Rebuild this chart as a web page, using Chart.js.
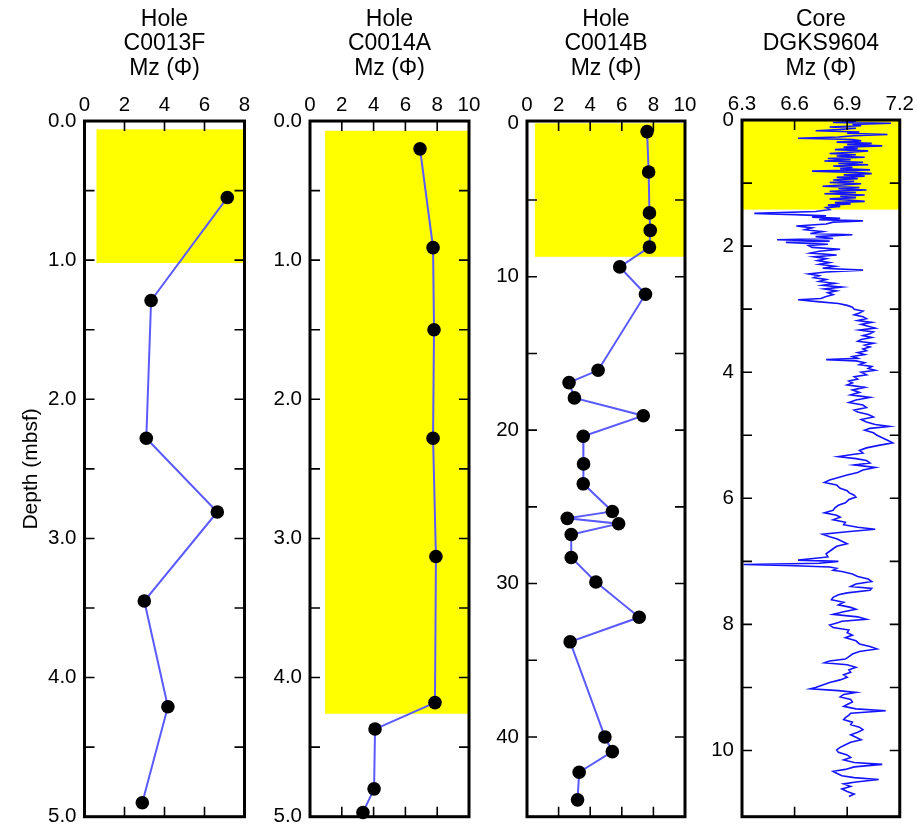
<!DOCTYPE html>
<html>
<head>
<meta charset="utf-8">
<title>Mz depth profiles</title>
<script src="https://cdn.jsdelivr.net/npm/chart.js@4.4.1/dist/chart.umd.min.js"></script>
<style>
  body { margin: 0; background: #fff; }
  #wrap { position: relative; width: 917px; height: 837px; }
  #wrap canvas { position: absolute; left: 0; top: 0; }
</style>
</head>
<body>
<div id="wrap">
  <canvas id="c0013f" width="917" height="837"></canvas>
  <canvas id="c0014a" width="917" height="837"></canvas>
  <canvas id="c0014b" width="917" height="837"></canvas>
  <canvas id="dgks9604" width="917" height="837"></canvas>
</div>
<script>
// Hole C0013F
const depthC0013F = [0.55, 1.29, 2.28, 2.81, 3.45, 4.21, 4.90];
const mzC0013F    = [7.14, 3.33, 3.09, 6.64, 2.99, 4.17, 2.89];
const shadeMzC0013F    = [0.6, 8];
const shadeDepthC0013F = [0.06, 1.02];

// Hole C0014A
const depthC0014A = [0.20, 0.91, 1.50, 2.28, 3.13, 4.18, 4.37, 4.80, 4.97];
const mzC0014A    = [6.92, 7.74, 7.80, 7.74, 7.92, 7.86, 4.09, 4.03, 3.33];
const shadeMzC0014A    = [0.95, 10];
const shadeDepthC0014A = [0.07, 4.26];

// Hole C0014B
const depthC0014B = [0.54, 3.17, 5.84, 6.98, 8.07, 9.36, 11.14, 16.1, 16.9, 17.9, 19.06, 20.4,
                     22.2, 23.5, 25.3, 25.75, 26.1, 26.8, 28.3, 29.9, 32.2, 33.8, 40.0, 40.96, 42.3, 44.1];
const mzC0014B    = [7.6, 7.7, 7.75, 7.8, 7.75, 5.87, 7.5, 4.5, 2.66, 3.0, 7.36, 3.56,
                     3.58, 3.56, 5.4, 2.55, 5.8, 2.8, 2.8, 4.36, 7.1, 2.73, 4.93, 5.4, 3.3, 3.2];
const shadeMzC0014B    = [0.5, 10];
const shadeDepthC0014B = [0, 8.7];

// Core DGKS9604 (m)
const depthDGKS = [
  0.00, 0.02, 0.04, 0.05, 0.07, 0.09, 0.11, 0.13, 0.15, 0.17, 0.19, 0.21, 0.23, 0.25, 0.27, 0.29,
  0.31, 0.33, 0.35, 0.37, 0.39, 0.41, 0.43, 0.45, 0.47, 0.49, 0.51, 0.53, 0.55, 0.57, 0.59, 0.61,
  0.63, 0.65, 0.67, 0.69, 0.71, 0.73, 0.75, 0.77, 0.79, 0.81, 0.83, 0.85, 0.87, 0.89, 0.91, 0.93,
  0.95, 0.97, 0.99, 1.01, 1.03, 1.05, 1.07, 1.09, 1.11, 1.13, 1.15, 1.17, 1.19, 1.21, 1.23, 1.25,
  1.27, 1.29, 1.31, 1.33, 1.35, 1.37, 1.39, 1.42, 1.45, 1.48, 1.50, 1.52, 1.54, 1.56, 1.58, 1.60,
  1.62, 1.65, 1.68, 1.71, 1.74, 1.77, 1.80, 1.82, 1.85, 1.88, 1.90, 1.92, 1.94, 1.97, 1.99, 2.02,
  2.05, 2.08, 2.11, 2.14, 2.17, 2.20, 2.23, 2.26, 2.29, 2.32, 2.35, 2.38, 2.41, 2.44, 2.47, 2.50,
  2.53, 2.56, 2.59, 2.62, 2.65, 2.68, 2.71, 2.74, 2.77, 2.80, 2.83, 2.85, 2.88, 2.91, 2.94, 2.97,
  3.00, 3.03, 3.06, 3.09, 3.12, 3.15, 3.18, 3.21, 3.24, 3.27, 3.30, 3.33, 3.36, 3.39, 3.42, 3.45,
  3.48, 3.51, 3.54, 3.57, 3.60, 3.63, 3.66, 3.69, 3.72, 3.75, 3.78, 3.80, 3.82, 3.85, 3.88, 3.91,
  3.94, 3.97, 4.00, 4.04, 4.07, 4.11, 4.14, 4.17, 4.20, 4.24, 4.28, 4.32, 4.36, 4.40, 4.44, 4.48,
  4.52, 4.56, 4.60, 4.63, 4.67, 4.71, 4.75, 4.79, 4.83, 4.86, 4.89, 4.92, 4.96, 5.00, 5.04, 5.08,
  5.12, 5.16, 5.20, 5.24, 5.28, 5.31, 5.34, 5.37, 5.40, 5.44, 5.47, 5.51, 5.55, 5.59, 5.63, 5.67,
  5.71, 5.75, 5.79, 5.84, 5.88, 5.91, 5.95, 5.98, 6.02, 6.07, 6.11, 6.15, 6.19, 6.23, 6.27, 6.30,
  6.34, 6.38, 6.42, 6.46, 6.49, 6.53, 6.57, 6.61, 6.64, 6.68, 6.72, 6.76, 6.80, 6.84, 6.88, 6.93,
  6.98, 7.00, 7.03, 7.05, 7.07, 7.09, 7.11, 7.14, 7.16, 7.20, 7.24, 7.28, 7.32, 7.36, 7.40, 7.43,
  7.46, 7.50, 7.53, 7.57, 7.61, 7.65, 7.69, 7.73, 7.76, 7.80, 7.84, 7.88, 7.92, 7.95, 7.97, 8.01,
  8.05, 8.09, 8.13, 8.17, 8.21, 8.26, 8.31, 8.35, 8.39, 8.43, 8.47, 8.51, 8.55, 8.58, 8.61, 8.64,
  8.68, 8.72, 8.76, 8.80, 8.84, 8.88, 8.92, 8.96, 9.00, 9.02, 9.05, 9.08, 9.11, 9.15, 9.19, 9.23,
  9.27, 9.30, 9.34, 9.37, 9.41, 9.44, 9.48, 9.51, 9.55, 9.59, 9.63, 9.67, 9.71, 9.75, 9.79, 9.83,
  9.87, 9.91, 9.95, 9.99, 10.03, 10.07, 10.11, 10.15, 10.19, 10.22, 10.26, 10.30, 10.33, 10.36, 10.40, 10.43,
  10.46, 10.50, 10.53, 10.57, 10.61, 10.65, 10.69, 10.73
];
const mzDGKS = [
  6.87, 6.95, 6.82, 7.15, 6.93, 6.98, 6.80, 6.95, 6.86, 6.72, 6.97, 6.90, 7.13, 6.94, 6.85, 6.62,
  6.93, 6.98, 6.84, 7.04, 6.90, 7.10, 6.88, 6.96, 6.83, 7.02, 6.92, 6.80, 6.95, 6.84, 7.00, 6.79,
  6.92, 6.77, 6.99, 6.85, 7.02, 6.82, 6.93, 6.86, 7.03, 6.70, 6.95, 7.04, 6.88, 7.00, 6.84, 6.96,
  6.82, 6.94, 6.80, 6.98, 6.87, 6.76, 6.97, 6.85, 7.01, 6.80, 6.95, 6.77, 7.00, 6.86, 6.95, 6.80,
  6.91, 7.00, 6.83, 6.92, 6.79, 6.86, 6.78, 6.80, 6.72, 6.37, 6.60, 6.78, 6.70, 6.86, 6.74, 6.99,
  6.82, 6.78, 6.61, 6.70, 6.66, 6.76, 6.69, 6.93, 6.72, 6.82, 6.50, 6.80, 6.55, 6.79, 6.68, 6.70,
  6.86, 6.74, 6.69, 6.84, 6.71, 6.78, 6.73, 6.80, 6.74, 6.83, 6.76, 6.99, 6.78, 6.68, 6.74, 6.71,
  6.78, 6.74, 6.83, 6.76, 6.87, 6.77, 6.84, 6.79, 6.82, 6.78, 6.75, 6.62, 6.73, 6.85, 6.90, 6.93,
  6.94, 6.99, 6.97, 6.94, 6.99, 7.01, 6.96, 7.04, 6.98, 7.02, 7.06, 6.97, 7.05, 7.03, 6.99, 7.04,
  6.98, 6.96, 7.05, 7.00, 7.03, 6.99, 7.01, 6.96, 7.00, 6.93, 6.96, 6.78, 6.95, 7.00, 6.97, 7.04,
  7.02, 7.06, 6.98, 7.01, 6.94, 6.96, 6.91, 6.93, 6.90, 7.00, 6.93, 6.97, 6.92, 7.03, 6.95, 6.91,
  6.99, 7.01, 6.94, 6.96, 7.02, 7.05, 6.98, 7.01, 7.06, 7.14, 7.03, 7.00, 7.05, 7.07, 7.10, 7.13,
  7.16, 7.08, 7.01, 6.97, 6.99, 6.92, 6.85, 6.95, 7.01, 7.03, 6.94, 7.06, 6.99, 6.96, 6.90, 6.85,
  6.80, 6.77, 6.84, 6.86, 6.90, 6.91, 6.94, 6.95, 6.91, 6.89, 6.85, 6.83, 6.82, 6.77, 6.84, 6.86,
  6.82, 6.89, 6.88, 6.96, 7.06, 6.90, 6.76, 6.80, 6.84, 6.87, 6.90, 6.84, 6.82, 6.80, 6.78, 6.79,
  6.62, 6.85, 6.74, 6.31, 6.60, 6.80, 6.84, 6.82, 6.87, 6.93, 6.96, 7.02, 7.04, 6.95, 6.92, 7.04,
  7.03, 6.90, 6.85, 6.82, 6.81, 6.88, 6.85, 6.92, 6.95, 6.88, 6.82, 6.96, 7.01, 6.87, 6.85, 6.80,
  6.82, 6.91, 6.90, 6.93, 6.89, 6.95, 6.97, 7.03, 7.07, 6.97, 6.93, 6.91, 6.89, 6.80, 6.77, 6.90,
  6.95, 6.91, 6.92, 6.88, 6.90, 6.86, 6.80, 6.76, 6.72, 6.69, 6.85, 6.95, 6.88, 6.86, 6.92, 6.93,
  6.90, 6.88, 6.95, 7.12, 6.92, 6.91, 6.89, 6.88, 6.93, 6.92, 6.97, 6.99, 6.96, 6.92, 6.95, 6.98,
  6.92, 6.89, 6.86, 6.84, 6.85, 6.90, 6.92, 6.88, 6.94, 7.10, 6.94, 6.89, 6.82, 6.84, 6.87, 6.94,
  7.08, 6.95, 6.88, 6.92, 6.87, 6.90, 6.94, 6.91
];
const shadeMzDGKS    = [6.3, 7.2];
const shadeDepthDGKS = [0, 1.42];

Chart.defaults.font.family = '"Liberation Sans", Arial, sans-serif';
Chart.defaults.color = '#000';

// yellow interval behind the profile
const shadePlugin = {
  id: 'shade',
  beforeDatasetsDraw(chart, args, opts) {
    const { ctx, scales: { x, y } } = chart;
    const x0 = x.getPixelForValue(opts.mz[0]), x1 = x.getPixelForValue(opts.mz[1]);
    const y0 = y.getPixelForValue(opts.depth[0]), y1 = y.getPixelForValue(opts.depth[1]);
    ctx.save();
    ctx.fillStyle = '#ffff00';
    ctx.fillRect(x0, y0, x1 - x0, y1 - y0);
    ctx.restore();
  }
};

// box frame with inward tick marks on all four sides
const framePlugin = {
  id: 'frame',
  afterDatasetsDraw(chart) {
    const { ctx, chartArea: a, scales: { x, y } } = chart;
    ctx.save();
    ctx.strokeStyle = '#000';
    ctx.lineWidth = 1.6;
    ctx.beginPath();
    x.ticks.forEach(t => {
      const px = x.getPixelForValue(t.value);
      if (px - a.left < 4 || a.right - px < 4) return;
      ctx.moveTo(px, a.top); ctx.lineTo(px, a.top + 10);
      ctx.moveTo(px, a.bottom); ctx.lineTo(px, a.bottom - 10);
    });
    y.ticks.forEach(t => {
      const py = y.getPixelForValue(t.value);
      if (py - a.top < 4 || a.bottom - py < 4) return;
      ctx.moveTo(a.left, py); ctx.lineTo(a.left + 10, py);
      ctx.moveTo(a.right, py); ctx.lineTo(a.right - 10, py);
    });
    ctx.stroke();
    ctx.lineWidth = 3;
    ctx.strokeRect(a.left, a.top, a.right - a.left, a.bottom - a.top);
    ctx.restore();
  }
};

function depthChart(id, o) {
  return new Chart(document.getElementById(id), {
    type: 'scatter',
    data: {
      datasets: [{
        data: o.mz.map((v, i) => ({ x: v, y: o.depth[i] })),
        showLine: true,
        borderColor: o.lineColor,
        borderWidth: o.lineWidth,
        pointRadius: o.dots ? 6.8 : 0,
        pointBackgroundColor: '#000',
        pointBorderColor: '#000',
        pointBorderWidth: 0,
        clip: false
      }]
    },
    options: {
      responsive: false,
      animation: false,
      layout: { padding: o.padding },
      plugins: {
        legend: { display: false },
        tooltip: { enabled: false },
        title: {
          display: true,
          text: o.title,
          fullSize: false,
          font: { size: 23, weight: 'normal', lineHeight: 1.07 },
          padding: { top: 0, bottom: 0 }
        },
        shade: { mz: o.shadeMz, depth: o.shadeDepth }
      },
      scales: {
        x: {
          type: 'linear',
          position: 'top',
          min: o.xMin, max: o.xMax,
          grid: { display: false, drawTicks: false, tickLength: 0 },
          border: { display: false },
          ticks: {
            stepSize: o.xStep,
            includeBounds: false,
            padding: 3,
            maxRotation: 0,
            font: { size: 20.5 },
            callback: o.xLabel
          },
          afterFit: s => { s.height = o.xHeight; }
        },
        y: {
          type: 'linear',
          reverse: true,
          min: o.yMin, max: o.yMax,
          grid: { display: false, drawTicks: false, tickLength: 0 },
          border: { display: false },
          title: {
            display: !!o.yTitle,
            text: o.yTitle,
            font: { size: 21 },
            padding: { top: 4, bottom: 0 }
          },
          ticks: {
            stepSize: o.yStep,
            includeBounds: false,
            padding: 8,
            font: { size: 20.5 },
            callback: o.yLabel
          },
          afterFit: s => { s.width = o.yWidth; }
        }
      }
    },
    plugins: [shadePlugin, framePlugin]
  });
}

const plainLabel = v => String(v);

depthChart('c0013f', {
  title: ['Hole', 'C0013F', 'Mz (\u03A6)'],
  depth: depthC0013F, mz: mzC0013F,
  shadeMz: shadeMzC0013F, shadeDepth: shadeDepthC0013F,
  lineColor: '#5a5aff', lineWidth: 2, dots: true,
  xMin: 0, xMax: 8, xStep: 2, xLabel: plainLabel, xHeight: 40,
  yMin: 0, yMax: 5, yStep: 0.5,
  yLabel: v => Number.isInteger(v) ? v.toFixed(1) : '',
  yTitle: 'Depth (mbsf)', yWidth: 70,
  padding: { left: 14.5, right: 672.5, top: 7.2, bottom: 11 }
});

depthChart('c0014a', {
  title: ['Hole', 'C0014A', 'Mz (\u03A6)'],
  depth: depthC0014A, mz: mzC0014A,
  shadeMz: shadeMzC0014A, shadeDepth: shadeDepthC0014A,
  lineColor: '#5a5aff', lineWidth: 2, dots: true,
  xMin: 0, xMax: 10, xStep: 2, xLabel: plainLabel, xHeight: 40,
  yMin: 0, yMax: 5, yStep: 0.5,
  yLabel: v => Number.isInteger(v) ? v.toFixed(1) : '',
  yWidth: 50,
  padding: { left: 260, right: 448, top: 7.2, bottom: 11 }
});

depthChart('c0014b', {
  title: ['Hole', 'C0014B', 'Mz (\u03A6)'],
  depth: depthC0014B, mz: mzC0014B,
  shadeMz: shadeMzC0014B, shadeDepth: shadeDepthC0014B,
  lineColor: '#5a5aff', lineWidth: 2, dots: true,
  xMin: 0, xMax: 10, xStep: 2, xLabel: plainLabel, xHeight: 40,
  yMin: -0.15, yMax: 45.2, yStep: 5,
  yLabel: v => v % 10 === 0 ? String(v) : '',
  yWidth: 50,
  padding: { left: 477, right: 232, top: 7.2, bottom: 10 }
});

depthChart('dgks9604', {
  title: ['Core', 'DGKS9604', 'Mz (\u03A6)'],
  depth: depthDGKS, mz: mzDGKS,
  shadeMz: shadeMzDGKS, shadeDepth: shadeDepthDGKS,
  lineColor: '#1414ff', lineWidth: 1.6, dots: false,
  xMin: 6.3, xMax: 7.2, xStep: 0.3, xLabel: v => v.toFixed(1), xHeight: 39,
  yMin: 0, yMax: 11.05, yStep: 1,
  yLabel: v => v % 2 === 0 ? String(v) : '',
  yWidth: 50,
  padding: { left: 692, right: 16, top: 7.2, bottom: 10 }
});
</script>
</body>
</html>
